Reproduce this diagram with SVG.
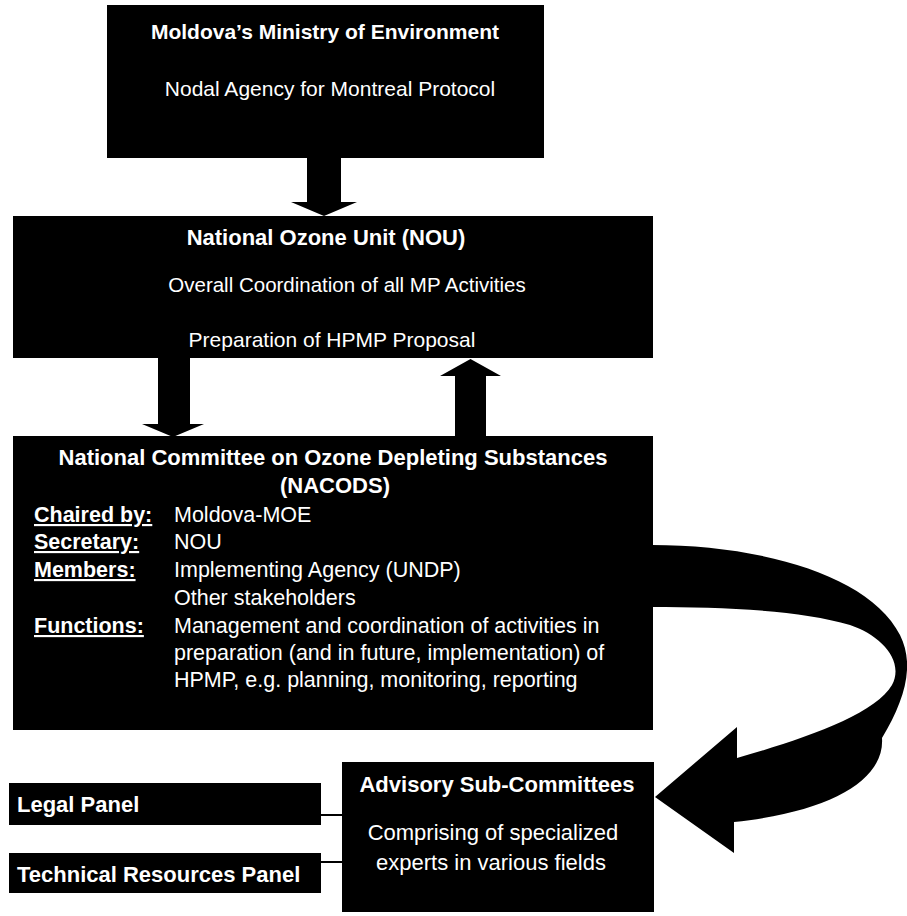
<svg xmlns="http://www.w3.org/2000/svg" width="907" height="916" viewBox="0 0 907 916">
<style>
.box{fill:#000}
.t{font-family:"Liberation Sans",Arial,sans-serif;fill:#fff}
.b{font-weight:bold}
.c{text-anchor:middle}
.u{text-decoration:underline}
.arr{fill:#000}
.ln{stroke:#000;stroke-width:2}
</style>
<rect width="907" height="916" fill="#fff"/>
<g id="connectors">
<polygon class="arr" points="307,157 341,157 341,202 357,202 324,216 291,202 307,202"/>
<polygon class="arr" points="158,357 190,357 190,424 204,424 173,437 142,424 158,424"/>
<polygon class="arr" points="455,437 486,437 486,376 501,376 470.5,359 440,376 455,376"/>
<path class="arr" d="M652,545 C760,545 870,575 900,635 C915,665 905,700 882,738 C885,780 830,812 734,822 L734,853 L655,797 L737,727 L737,758 C800,740 875,715 892,685 C905,660 880,635 850,625 C800,610 720,607 652,607 Z"/>
<line class="ln" x1="320" y1="815" x2="343" y2="815"/>
<line class="ln" x1="320" y1="862" x2="343" y2="862"/>
</g>
<g id="ministry">
<rect class="box" x="107" y="5" width="437" height="153"/>
<text class="t b c" x="325" y="39" font-size="21">Moldova’s Ministry of Environment</text>
<text class="t c" x="330" y="96" font-size="21">Nodal Agency for Montreal Protocol</text>
</g>
<g id="nou">
<rect class="box" x="13" y="216" width="640" height="142"/>
<text class="t b c" x="326" y="245" font-size="22">National Ozone Unit (NOU)</text>
<text class="t c" x="347" y="292" font-size="20.5">Overall Coordination of all MP Activities</text>
<text class="t c" x="332" y="347" font-size="21">Preparation of HPMP Proposal</text>
</g>
<g id="nacods">
<rect class="box" x="13" y="436" width="640" height="294"/>
<text class="t b c" x="333" y="465" font-size="22">National Committee on Ozone Depleting Substances</text>
<text class="t b c" x="335" y="493" font-size="22">(NACODS)</text>
<text class="t b u" x="34" y="522" font-size="21.5">Chaired by:</text>
<text class="t" x="174" y="522" font-size="21.5">Moldova-MOE</text>
<text class="t b u" x="34" y="549" font-size="21.5">Secretary:</text>
<text class="t" x="174" y="549" font-size="21.5">NOU</text>
<text class="t b u" x="34" y="577" font-size="21.5">Members:</text>
<text class="t" x="174" y="577" font-size="21.5">Implementing Agency (UNDP)</text>
<text class="t" x="174" y="605" font-size="21.5">Other stakeholders</text>
<text class="t b u" x="34" y="633" font-size="21.5">Functions:</text>
<text class="t" x="174" y="633" font-size="21.5">Management and coordination of activities in</text>
<text class="t" x="174" y="660" font-size="21.5">preparation (and in future, implementation) of</text>
<text class="t" x="174" y="687" font-size="21.5">HPMP, e.g. planning, monitoring, reporting</text>
</g>
<g id="advisory">
<rect class="box" x="342" y="762" width="312" height="150"/>
<text class="t b c" x="497" y="792" font-size="22">Advisory Sub-Committees</text>
<text class="t c" x="493" y="840" font-size="22">Comprising of specialized</text>
<text class="t c" x="491" y="870" font-size="22">experts in various fields</text>
</g>
<g id="legal">
<rect class="box" x="9" y="783" width="312" height="42"/>
<text class="t b" x="17" y="812" font-size="22">Legal Panel</text>
</g>
<g id="technical">
<rect class="box" x="9" y="853" width="312" height="40"/>
<text class="t b" x="17" y="882" font-size="22">Technical Resources Panel</text>
</g>
</svg>
